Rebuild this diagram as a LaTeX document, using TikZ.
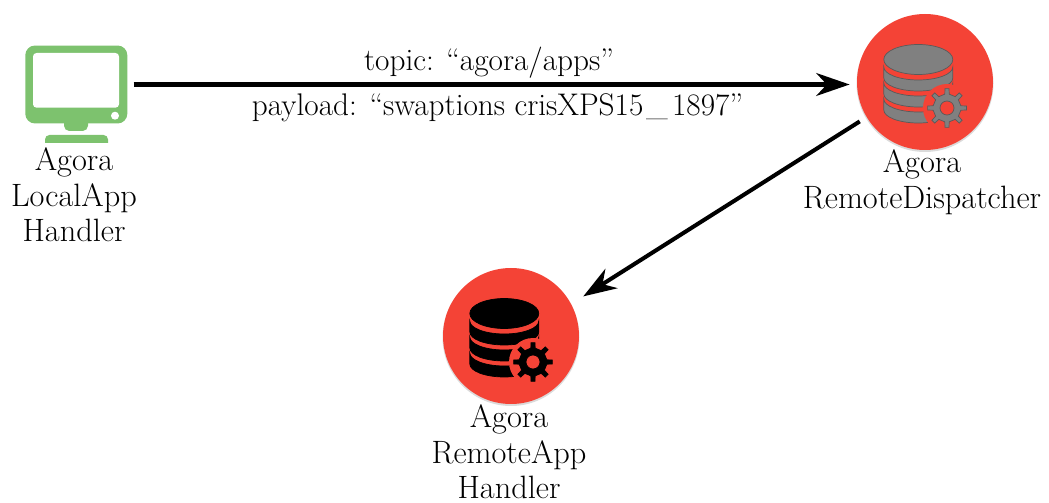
\documentclass[tikz,border=0pt]{standalone}
\usetikzlibrary{arrows.meta,calc}

\definecolor{discred}{RGB}{244,67,54}
\definecolor{screengreen}{RGB}{125,194,110}
\definecolor{icongray}{RGB}{128,128,128}
\definecolor{icongrayline}{RGB}{90,90,90}

\tikzset{
    agoradisc/.style={circle,minimum size=2.72cm,inner sep=0pt},
    agoralabel/.style={align=center,font=\fontsize{18.4}{20.2}\selectfont},
    msgtext/.style={font=\fontsize{17.8}{20.2}\selectfont},
    msgarrow/.style={line width=2.3pt,-{Stealth[length=19pt,width=13pt,inset=6pt]}},
    screenframe/.style={rectangle,fill=screengreen,rounded corners=5.5pt,minimum width=2.04cm,minimum height=1.56cm,inner sep=0pt}
}

% database with a gear on top, #1 centre, #2 fill, #3 outline
\newcommand{\dbicon}[3]{
    \begin{scope}[shift={(#1)}]
        \fill[black,opacity=0.14] (0,1.5) circle[radius=68.5];
        \fill[discred] (0,0) circle[radius=68];
        \draw[fill=#2,draw=#3,line width=0.4pt] (-6.7,-22.5) ellipse (34.5 and 15);
        \draw[fill=#2,draw=#3,line width=0.4pt] (-41.2,-15) -- (-41.2,-4) arc (180:0:34.5 and 13) -- (27.8,-15) arc (0:180:34.5 and 13) -- cycle;
        \draw[fill=#2,draw=#3,line width=0.4pt] (-41.2,1) -- (-41.2,12) arc (180:0:34.5 and 13) -- (27.8,1) arc (0:180:34.5 and 13) -- cycle;
        \draw[fill=#2,draw=#3,line width=0.4pt] (-41.2,17) -- (-41.2,28) arc (180:0:34.5 and 13) -- (27.8,17) arc (0:180:34.5 and 13) -- cycle;
        \fill[discred] (22,26) circle[radius=24];
        \draw[fill=#2,draw=#3,line width=0.4pt] ($(22,26)+(-9:14)$)
            \foreach \a in {0,45,...,315} { -- ($(22,26)+(\a-9:14)$) -- ($(22,26)+(\a-6:19.5)$) -- ($(22,26)+(\a+6:19.5)$) -- ($(22,26)+(\a+9:14)$) } -- cycle;
        \draw[fill=discred,draw=#3,line width=0.4pt] (22,26) circle[radius=7];
    \end{scope}
}

\begin{document}
\begin{tikzpicture}[x=0.02cm,y=-0.02cm]
    \useasboundingbox (0,0) rectangle (1049,503);

    % local machine
    \fill[screengreen] (64,120) [rounded corners=3pt] -- (64,131) -- (88,131) [sharp corners] -- (88,120) -- cycle;
    \fill[screengreen] (45,143) [rounded corners=2.5pt] -- (45,135) -- (108,135) [sharp corners] -- (108,143) -- cycle;
    \node[screenframe] (localapp) at (76.3,84.5) {};
    \fill[white,rounded corners=2pt] (33,53) rectangle (119,107.7);
    \fill[white] (115,115.7) circle[radius=4];
    \node[agoralabel] (locallabel) at (74,195) {Agora\\LocalApp\\Handler};

    % dispatcher and remote app
    \dbicon{925,82}{icongray}{icongrayline}
    \node[agoradisc] (dispatcher) at (925,82) {};
    \node[agoralabel] (dispatcherlabel) at (922,182) {Agora\\RemoteDispatcher};

    \dbicon{511,336}{black}{black}
    \node[agoradisc] (remoteapp) at (511,336) {};
    \node[agoralabel] (remotelabel) at (509,452) {Agora\\RemoteApp\\Handler};

    % messages
    \draw[msgarrow,shorten <=3.4pt,shorten >=4pt] (localapp.east) -- (localapp.east -| dispatcher.west);
    \draw[msgarrow,shorten <=4.5pt,shorten >=8pt] (dispatcher.211) -- (remoteapp.28);

    \node[msgtext] (topic) at (489,63) {topic: ``agora/apps''};
    \node[msgtext] (payload) at (497.5,108) {payload: ``swaptions crisXPS15\kern1.5pt\_\kern2.5pt 1897''};
\end{tikzpicture}
\end{document}
